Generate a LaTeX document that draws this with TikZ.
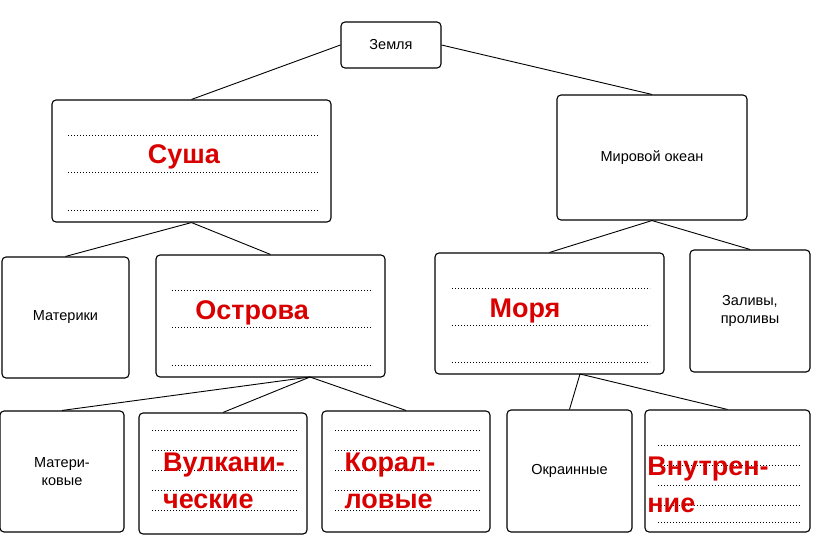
\documentclass[tikz,border=0pt]{standalone}
\usepackage{fontspec}
\setmainfont{Liberation Sans}
\begin{document}
\begin{tikzpicture}[x=1pt,y=-1pt,
 box/.style={draw,line width=1.1pt,rounded corners=4pt,align=center,font=\fontsize{14.5}{18}\selectfont,inner sep=0pt},
 red/.style={text=red!85!black,font=\fontsize{27}{37}\selectfont\bfseries,align=left,inner sep=0pt},
 dots/.style={line width=1pt,dotted},
 link/.style={line width=0.9pt}]
\useasboundingbox (0,0) rectangle (814,544);
\newcommand{\bx}[6]{\node[box,minimum width=#4-#2,minimum height=#5-#3] (#1) at ({(#2+#4)/2},{(#3+#5)/2}) {#6};}
\bx{zem}{341}{22}{441}{68}{Земля}
\bx{sus}{52}{100}{331}{222}{}
\bx{oke}{557}{95}{747}{220}{Мировой океан}
\bx{mat}{2}{257}{129}{378}{Материки}
\bx{ost}{156}{255}{385}{377}{}
\bx{mor}{435}{253}{664}{374}{}
\bx{zal}{690}{250}{810}{372}{Заливы,\\проливы}
\bx{mk}{0}{411}{124}{532}{Матери-\\ковые}
\bx{vul}{139}{413}{307}{534}{}
\bx{kor}{322}{411}{490}{532}{}
\bx{okr}{507}{410}{632}{532}{Окраинные}
\bx{vnu}{645}{410}{810}{532}{}
% dotted lines
\foreach \y in {135,172,210} \draw[dots] (68,\y) -- (318,\y);
\foreach \y in {290,327,365} \draw[dots] (172,\y) -- (372,\y);
\foreach \y in {288,325,362} \draw[dots] (452,\y) -- (650,\y);
\foreach \y in {430,450,470,490,510} {\draw[dots] (152,\y) -- (298,\y); \draw[dots] (335,\y) -- (480,\y);}
\foreach \y in {445,465,485,505,522} \draw[dots] (658,\y) -- (800,\y);
% red texts
\node[red] at (184,157) {Суша};
\node[red] at (252,313) {Острова};
\node[red] at (525,311) {Моря};
\node[red] at (224,481) {Вулкани-\\ческие};
\node[red] at (390,481) {Корал-\\ловые};
\node[red] at (708,485) {Внутрен-\\ние};
% connectors
\draw[link] (zem.west) -- (sus.north);
\draw[link] (zem.east) -- (oke.north);
\draw[link] (sus.south) -- (mat.north);
\draw[link] (sus.south) -- (ost.north);
\draw[link] (oke.south) -- (mor.north);
\draw[link] (oke.south) -- (zal.north);
\coordinate (ob) at (310,377);
\draw[link] (ob) -- (mk.north);
\draw[link] (ob) -- (vul.north);
\draw[link] (ob) -- (kor.north);
\coordinate (mb) at (580,374);
\draw[link] (mb) -- (okr.north);
\draw[link] (mb) -- (vnu.north);
\end{tikzpicture}
\end{document}
